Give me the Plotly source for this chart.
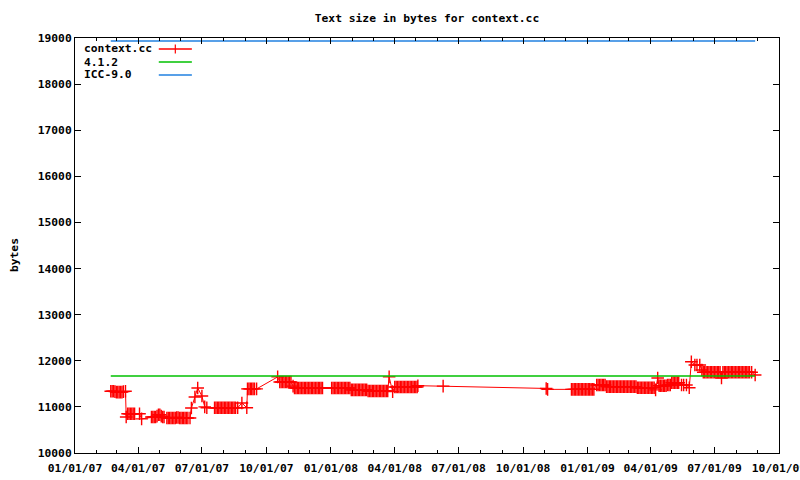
import plotly.graph_objects as go

# ---- data ----
ctx_dates = [
    "2007-02-21", "2007-02-23", "2007-02-25", "2007-02-27", "2007-03-01", "2007-03-03",
    "2007-03-05", "2007-03-07", "2007-03-09", "2007-03-11", "2007-03-14",
    "2007-03-15", "2007-03-17", "2007-03-19", "2007-03-21", "2007-03-23", "2007-03-25",
    "2007-03-27", "2007-04-03", "2007-04-06",
    "2007-04-20", "2007-04-22", "2007-04-24", "2007-04-26", "2007-04-28", "2007-04-30",
    "2007-05-02", "2007-05-04", "2007-05-06", "2007-05-08",
    "2007-05-12", "2007-05-14", "2007-05-16", "2007-05-18", "2007-05-20", "2007-05-22",
    "2007-05-24", "2007-05-26", "2007-05-28", "2007-05-30", "2007-06-01", "2007-06-03",
    "2007-06-05", "2007-06-07", "2007-06-09", "2007-06-11", "2007-06-14",
    "2007-06-16", "2007-06-21", "2007-06-25", "2007-07-01", "2007-07-05", "2007-07-08",
    "2007-07-19", "2007-07-21", "2007-07-23", "2007-07-25", "2007-07-27", "2007-07-29",
    "2007-07-31", "2007-08-02", "2007-08-04", "2007-08-06", "2007-08-08", "2007-08-10",
    "2007-08-12", "2007-08-14", "2007-08-16", "2007-08-18", "2007-08-21", "2007-08-27",
    "2007-09-03",
    "2007-09-04", "2007-09-06", "2007-09-08", "2007-09-10", "2007-09-12", "2007-09-14",
    "2007-09-17",
    "2007-10-17", "2007-10-20", "2007-10-22", "2007-10-24", "2007-10-26", "2007-10-28",
    "2007-10-30", "2007-11-01", "2007-11-03", "2007-11-05", "2007-11-08",
    "2007-11-10", "2007-11-12", "2007-11-14", "2007-11-16", "2007-11-18", "2007-11-20",
    "2007-11-22", "2007-11-24", "2007-11-26", "2007-11-28", "2007-11-30", "2007-12-02",
    "2007-12-04", "2007-12-06", "2007-12-08", "2007-12-10", "2007-12-12", "2007-12-14",
    "2007-12-16", "2007-12-18", "2007-12-20",
    "2008-01-02", "2008-01-04", "2008-01-06", "2008-01-08", "2008-01-10", "2008-01-12",
    "2008-01-14", "2008-01-16", "2008-01-18", "2008-01-20", "2008-01-22", "2008-01-24",
    "2008-01-26", "2008-01-28",
    "2008-01-30", "2008-02-01", "2008-02-03", "2008-02-05", "2008-02-07", "2008-02-09",
    "2008-02-11", "2008-02-13", "2008-02-15", "2008-02-17", "2008-02-19", "2008-02-21",
    "2008-02-23", "2008-02-25", "2008-02-27", "2008-02-29", "2008-03-02", "2008-03-04",
    "2008-03-06", "2008-03-08", "2008-03-10", "2008-03-12", "2008-03-14", "2008-03-16",
    "2008-03-18", "2008-03-20", "2008-03-22",
    "2008-03-24", "2008-03-29",
    "2008-04-01", "2008-04-03", "2008-04-05", "2008-04-07", "2008-04-09", "2008-04-11",
    "2008-04-13", "2008-04-15", "2008-04-17", "2008-04-19", "2008-04-21", "2008-04-23",
    "2008-04-25", "2008-04-27", "2008-04-29", "2008-05-01", "2008-05-03", "2008-05-04",
    "2008-06-09", "2008-11-03", "2008-11-05",
    "2008-12-09", "2008-12-11", "2008-12-13", "2008-12-15", "2008-12-17", "2008-12-19",
    "2008-12-21", "2008-12-23", "2008-12-25", "2008-12-27", "2008-12-29", "2008-12-31",
    "2009-01-02", "2009-01-04", "2009-01-06", "2009-01-08", "2009-01-10",
    "2009-01-14", "2009-01-16", "2009-01-18", "2009-01-20", "2009-01-22", "2009-01-24",
    "2009-01-26",
    "2009-01-28", "2009-01-30", "2009-02-01", "2009-02-03", "2009-02-05", "2009-02-07",
    "2009-02-09", "2009-02-11", "2009-02-13", "2009-02-15", "2009-02-17", "2009-02-19",
    "2009-02-21", "2009-02-23", "2009-02-25", "2009-02-27", "2009-03-01", "2009-03-03",
    "2009-03-05", "2009-03-07", "2009-03-09", "2009-03-11",
    "2009-03-13", "2009-03-15", "2009-03-17", "2009-03-19", "2009-03-21", "2009-03-23",
    "2009-03-25", "2009-03-27", "2009-03-29", "2009-03-31", "2009-04-02", "2009-04-04",
    "2009-04-06", "2009-04-08",
    "2009-04-11", "2009-04-13", "2009-04-15", "2009-04-17", "2009-04-19", "2009-04-21",
    "2009-04-23", "2009-04-25", "2009-04-27", "2009-04-29", "2009-05-01", "2009-05-03",
    "2009-05-05", "2009-05-07", "2009-05-09", "2009-05-11", "2009-05-15", "2009-05-18",
    "2009-05-22", "2009-05-26",
    "2009-05-29", "2009-06-03", "2009-06-06", "2009-06-10", "2009-06-13",
    "2009-06-15", "2009-06-17", "2009-06-19", "2009-06-21", "2009-06-23", "2009-06-25",
    "2009-06-27", "2009-06-29", "2009-07-01", "2009-07-03", "2009-07-05", "2009-07-07",
    "2009-07-09", "2009-07-11", "2009-07-13", "2009-07-15", "2009-07-17", "2009-07-19",
    "2009-07-21", "2009-07-23", "2009-07-25", "2009-07-27", "2009-07-29", "2009-07-31",
    "2009-08-02", "2009-08-04", "2009-08-06", "2009-08-08", "2009-08-10", "2009-08-12",
    "2009-08-14", "2009-08-16", "2009-08-18", "2009-08-20", "2009-08-23", "2009-08-28",
]
ctx_values = [
    11340, 11340, 11340, 11330, 11320, 11320,
    11320, 11320, 11320, 11330, 11340,
    10780, 10850, 10850, 10850, 10850, 10850,
    10850, 10850, 10740,
    10780, 10780, 10780, 10780, 10800, 10830,
    10830, 10800, 10780, 10780,
    10760, 10760, 10760, 10760, 10760, 10760,
    10760, 10770, 10770, 10760, 10760, 10760,
    10760, 10760, 10760, 10760, 10760,
    10975, 11215, 11410, 11235, 11000, 10980,
    10980, 10980, 10980, 10980, 10980, 10980,
    10980, 10980, 10980, 10980, 10980, 10980,
    10980, 10980, 10980, 10980, 10980, 11085,
    10980,
    11390, 11390, 11390, 11390, 11390, 11390,
    11390,
    11650, 11540, 11540, 11540, 11540, 11540,
    11540, 11540, 11540, 11540, 11450,
    11410, 11410, 11410, 11410, 11410, 11410,
    11410, 11410, 11410, 11410, 11410, 11410,
    11410, 11410, 11410, 11410, 11410, 11410,
    11410, 11410, 11410,
    11410, 11410, 11410, 11410, 11410, 11410,
    11410, 11410, 11410, 11410, 11410, 11410,
    11410, 11410,
    11370, 11370, 11370, 11370, 11370, 11370,
    11370, 11370, 11370, 11370, 11370, 11370,
    11345, 11345, 11345, 11345, 11345, 11345,
    11345, 11345, 11345, 11345, 11345, 11345,
    11345, 11345, 11345,
    11650, 11330,
    11430, 11430, 11430, 11430, 11430, 11430,
    11430, 11430, 11430, 11430, 11430, 11430,
    11430, 11430, 11430, 11430, 11430, 11460,
    11450, 11400, 11380,
    11380, 11380, 11380, 11380, 11380, 11380,
    11380, 11380, 11380, 11380, 11380, 11380,
    11380, 11380, 11380, 11380, 11380,
    11475, 11475, 11475, 11475, 11475, 11475,
    11475,
    11440, 11440, 11440, 11440, 11440, 11440,
    11440, 11440, 11440, 11440, 11440, 11440,
    11440, 11440, 11440, 11440, 11440, 11440,
    11440, 11440, 11440, 11440,
    11415, 11415, 11415, 11415, 11415, 11415,
    11415, 11415, 11415, 11415, 11415, 11415,
    11415, 11370,
    11625, 11460, 11460, 11460, 11460, 11460,
    11460, 11475, 11475, 11475, 11525, 11525,
    11525, 11525, 11525, 11525, 11475, 11475,
    11475, 11415,
    11980, 11910, 11910, 11910, 11800,
    11750, 11750, 11750, 11750, 11750, 11750,
    11750, 11750, 11750, 11750, 11750, 11750,
    11750, 11625, 11750, 11750, 11750, 11750,
    11750, 11750, 11750, 11750, 11750, 11750,
    11750, 11750, 11750, 11750, 11750, 11750,
    11750, 11750, 11750, 11750, 11750, 11690,
]
gcc_dates = ["2007-02-21", "2009-08-28"]
gcc_values = [11670, 11670]
icc_dates = ["2007-02-21", "2009-08-28"]
icc_values = [18935, 18935]

legend_names = ["context.cc", "4.1.2", "ICC-9.0"]
title_text = "Text size in bytes for context.cc"
y_label = "bytes"

RED = "#ff0000"
GREEN = "#00c000"
BLUE = "#2080e0"
FONT = dict(family="DejaVu Sans Mono", size=11.3, color="black", weight="bold")

fig = go.Figure()
fig.add_trace(go.Scatter(
    x=ctx_dates, y=ctx_values, mode="lines+markers", name=legend_names[0],
    line=dict(color=RED, width=1),
    marker=dict(symbol="cross-thin", size=9, line=dict(color=RED, width=1.4)),
))
fig.add_trace(go.Scatter(
    x=gcc_dates, y=gcc_values, mode="lines", name=legend_names[1],
    line=dict(color=GREEN, width=1.5),
))
fig.add_trace(go.Scatter(
    x=icc_dates, y=icc_values, mode="lines", name=legend_names[2],
    line=dict(color=BLUE, width=1.5),
))

# gnuplot-style legend: text on the left, sample on the right
ann = []
shapes = []
leg_y = [0.9735, 0.942, 0.911]
colors = [RED, GREEN, BLUE]
for name, yy, c in zip(legend_names, leg_y, colors):
    ann.append(dict(text=name, xref="paper", yref="paper", x=0.0095, y=yy,
                    xanchor="left", yanchor="middle", showarrow=False, font=FONT))
    shapes.append(dict(type="line", xref="paper", yref="paper", x0=0.119, x1=0.166,
                       y0=yy, y1=yy, line=dict(color=c, width=1.5)))
shapes.append(dict(type="line", xref="paper", yref="paper", x0=0.1425, x1=0.1425,
                   y0=leg_y[0] - 0.0108, y1=leg_y[0] + 0.0108, line=dict(color=RED, width=1.2)))

ann.append(dict(text=y_label, xref="paper", yref="paper", x=-0.0866, y=0.477,
                textangle=-90, showarrow=False, xanchor="center", yanchor="middle", font=FONT))

fig.update_layout(
    width=800, height=480,
    margin=dict(l=75, r=21, t=38, b=27, autoexpand=False),
    paper_bgcolor="white", plot_bgcolor="white",
    showlegend=False,
    title=dict(text=title_text, x=0.5, xref="paper", y=0.9625, yref="container",
               xanchor="center", yanchor="middle", font=FONT),
    annotations=ann, shapes=shapes,
    font=FONT,
)
fig.update_xaxes(
    type="date", range=["2007-01-01", "2009-10-01"],
    tick0="2007-01-01", dtick="M3", tickformat="%m/%d/%y",
    showgrid=False, zeroline=False, automargin=False,
    showline=True, linecolor="black", linewidth=1, mirror="ticks",
    ticks="inside", ticklen=6, tickcolor="black", tickwidth=1,
    ticklabelstandoff=4, ticklabeloverflow="allow",
    minor=dict(dtick="M1", tick0="2007-01-01", ticks="inside", ticklen=3,
               tickcolor="black", tickwidth=1, showgrid=False),
    tickfont=FONT,
)
fig.update_yaxes(
    range=[10000, 19000], dtick=1000, tick0=10000, tickformat="d",
    showgrid=False, zeroline=False, automargin=False,
    showline=True, linecolor="black", linewidth=1, mirror="ticks",
    ticks="inside", ticklen=6, tickcolor="black", tickwidth=1,
    tickfont=FONT,
)

fig.write_html("out.html", config={"displayModeBar": False},
               post_script="document.body.style.margin='0';")
